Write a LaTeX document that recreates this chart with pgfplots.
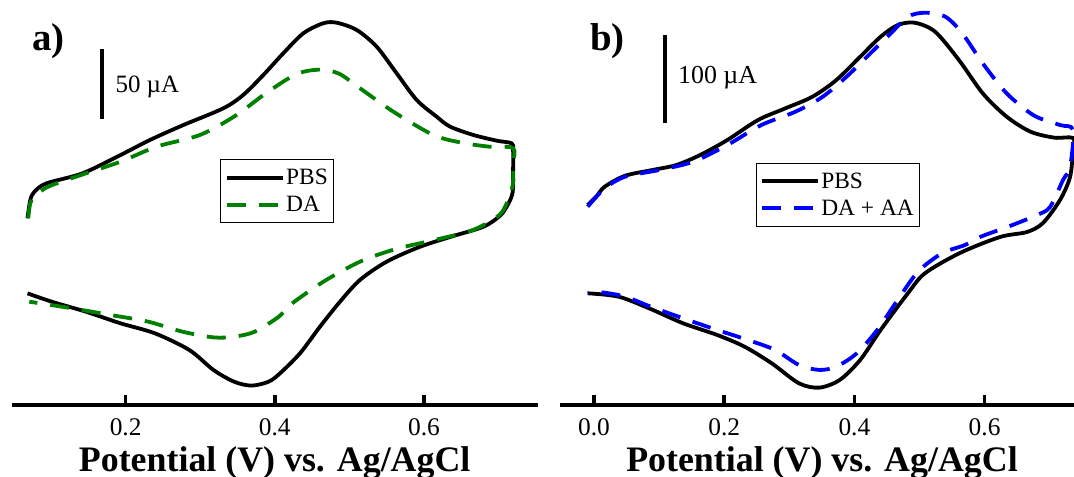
\documentclass[border=0pt]{standalone}
\usepackage{pgfplots}
\pgfplotsset{compat=1.18}
\usepackage{fontspec}
\setmainfont{Liberation Serif}
\definecolor{dagreen}{RGB}{0,128,0}
\definecolor{dablue}{RGB}{0,0,255}
\pgfplotsset{
  cvaxis/.style={
    scale only axis,
    axis x line=bottom,
    axis y line=none,
    axis line style={-, line width=4bp},
    tick align=inside,
    major tick length=10bp,
    every tick/.style={black, line width=3.5bp},
    ytick=\empty,
    xticklabel style={anchor=base, yshift=-30bp, font=\fontsize{25.5}{25.5}\selectfont},
    xlabel style={at={(axis description cs:0.5,0)}, anchor=base, yshift=-66bp, font=\bfseries\fontsize{36}{36}\selectfont},
    xlabel={Potential (V) vs. Ag/AgCl},
    legend cell align=left,
    legend image code/.code={\draw[#1] (0bp,0bp) -- (56bp,0bp);},
    legend style={draw=black, line width=0.9bp, fill=white,
      font=\fontsize{23.5}{23.5}\selectfont, inner xsep=4bp, inner ysep=8bp,
      row sep=7bp, nodes={inner sep=1.5bp}},
  },
  pbs/.style={black, line width=3.8bp, smooth, tension=0.5},
  da/.style={line width=3.8bp, smooth, tension=0.5, dash pattern=on 19bp off 13bp},
}
\begin{document}
\begin{tikzpicture}
\useasboundingbox (0,0) rectangle (1074bp,477bp);
% ---------------- panel a ----------------
\begin{axis}[cvaxis,
  at={(11.7bp,72bp)}, anchor=south west,
  width=526bp, height=405bp,
  xmin=0.0472, xmax=0.7525, ymin=-132.7, ymax=157.8,
  xtick={0.2,0.4,0.6}, xticklabels={0.2,0.4,0.6},
  legend style={at={(0.3968,0.6067)}, anchor=north west},
]
\addplot[pbs] coordinates {
(0.0684,1.2) (0.0721,14.3) (0.0777,20.3) (0.0938,26.3) (0.1423,33.5)
(0.1931,46.6) (0.2326,57.4) (0.2773,68.1) (0.3309,80.1) (0.3577,89.7)
(0.3846,104.0) (0.4114,119.6) (0.4382,133.9) (0.4650,141.1) (0.4830,141.5)
(0.5098,136.3) (0.5366,124.3) (0.5634,105.2) (0.5902,86.1) (0.6170,74.1)
(0.6349,67.0) (0.6661,61.0) (0.6975,56.9) (0.7176,55.0) (0.7195,50.2)
(0.7195,35.0) (0.7187,19.2) (0.7109,9.5) (0.7019,3.0) (0.6800,-4.8)
(0.6393,-11.5) (0.5947,-19.2) (0.5500,-29.9) (0.5142,-43.0) (0.4874,-58.6)
(0.4606,-76.5) (0.4338,-95.6) (0.4069,-110.0) (0.3916,-116.0) (0.3686,-118.8)
(0.3455,-116.0) (0.3178,-107.6) (0.2855,-93.3) (0.2393,-81.3) (0.1931,-74.1)
(0.1469,-65.8) (0.1008,-58.6) (0.0684,-52.6)
};
\addlegendentry{PBS}
\addplot[da, dagreen] coordinates {
(0.0693,1.2) (0.0721,12.0) (0.0777,16.7) (0.0962,23.9) (0.1469,33.5)
(0.1931,41.8) (0.2416,52.6) (0.2997,61.0) (0.3466,74.6) (0.3891,91.3)
(0.4293,104.7) (0.4600,107.8) (0.4860,105.0) (0.5142,94.5) (0.5589,77.7)
(0.6125,61.0) (0.6502,55.5) (0.6872,52.6) (0.7195,51.5) (0.7195,40.0)
(0.7190,25.0) (0.7110,12.0) (0.7019,4.0) (0.6841,-2.4) (0.6594,-8.4)
(0.6103,-14.8) (0.5611,-21.0) (0.5142,-29.9) (0.4650,-44.3) (0.4203,-61.0)
(0.4055,-69.3) (0.3732,-80.1) (0.3455,-83.7) (0.3178,-84.2) (0.2762,-80.1)
(0.2300,-72.9) (0.1793,-68.1) (0.1285,-63.4) (0.0708,-58.6)
};
\addlegendentry{DA}
\draw[line width=4bp] (axis cs:0.1681,72.5) -- (axis cs:0.1681,122.5);
\node[anchor=base west, inner sep=0pt, font=\fontsize{25}{25}\selectfont] at (axis cs:0.1862,91.1) {50 µA};
\end{axis}
\node[anchor=base west, inner sep=0pt, font=\bfseries\fontsize{39}{39}\selectfont] at (32bp,426.5bp) {a)};
% ---------------- panel b ----------------
\begin{axis}[cvaxis,
  at={(560bp,72bp)}, anchor=south west,
  width=514bp, height=405bp,
  xmin=-0.0522, xmax=0.7373, ymin=-226.2, ymax=235.7,
  xtick={0,0.2,0.4,0.6}, xticklabels={0.0,0.2,0.4,0.6},
  xlabel style={xshift=5bp},
  legend style={at={(0.3805,0.598)}, anchor=north west},
]
\addplot[pbs] coordinates {
(-0.0097,1.9) (0.0034,11.4) (0.0165,22.8) (0.0479,35.3) (0.0897,41.8)
(0.1264,47.5) (0.1630,58.9) (0.2048,76.0) (0.2519,98.8) (0.2938,112.1)
(0.3356,125.4) (0.3722,144.4) (0.4089,171.0) (0.4403,193.8) (0.4664,207.1)
(0.4926,209.8) (0.5240,199.5) (0.5606,167.2) (0.5972,129.2) (0.6339,102.6)
(0.6705,85.5) (0.7071,78.7) (0.7358,78.3) (0.7358,64.6) (0.7312,33.8)
(0.7158,7.6) (0.6897,-18.6) (0.6651,-28.9) (0.6237,-34.6) (0.5622,-52.8)
(0.5083,-76.0) (0.4821,-98.8) (0.4403,-140.6) (0.4089,-174.8) (0.3775,-197.6)
(0.3461,-206.4) (0.3147,-201.4) (0.2729,-178.6) (0.2310,-159.6) (0.1891,-146.3)
(0.1368,-133.0) (0.0845,-115.9) (0.0374,-102.6) (-0.0097,-98.8)
};
\addlegendentry{PBS}
\addplot[da, dablue] coordinates {
(-0.0097,0.0) (0.0165,20.9) (0.0479,34.2) (0.1002,41.8) (0.1525,51.3)
(0.2048,70.3) (0.2571,93.1) (0.3094,108.3) (0.3513,125.4) (0.3879,148.2)
(0.4245,174.8) (0.4559,197.6) (0.4821,216.6) (0.5083,221.2) (0.5397,216.6)
(0.5658,197.6) (0.5972,163.4) (0.6339,129.2) (0.6757,104.0) (0.7158,93.1)
(0.7358,87.4) (0.7312,45.2) (0.7204,30.4) (0.7005,-0.4) (0.6805,-9.5)
(0.6390,-22.0) (0.5929,-34.6) (0.5699,-43.7) (0.5345,-53.2) (0.4978,-74.1)
(0.4664,-106.4) (0.4351,-140.6) (0.4037,-167.2) (0.3723,-182.4) (0.3461,-186.2)
(0.3147,-180.5) (0.2781,-163.4) (0.2363,-152.0) (0.1891,-140.6) (0.1368,-127.3)
(0.0845,-113.3) (0.0479,-102.6) (0.0113,-97.7) (-0.0097,-98.8)
};
\addlegendentry{DA + AA}
\draw[line width=4bp] (axis cs:0.1091,95.8) -- (axis cs:0.1091,195.7);
\node[anchor=base west, inner sep=0pt, font=\fontsize{26}{26}\selectfont] at (axis cs:0.129,140.4) {100 µA};
\end{axis}
\node[anchor=base west, inner sep=0pt, font=\bfseries\fontsize{39}{39}\selectfont] at (590bp,426.5bp) {b)};
\end{tikzpicture}
\end{document}
